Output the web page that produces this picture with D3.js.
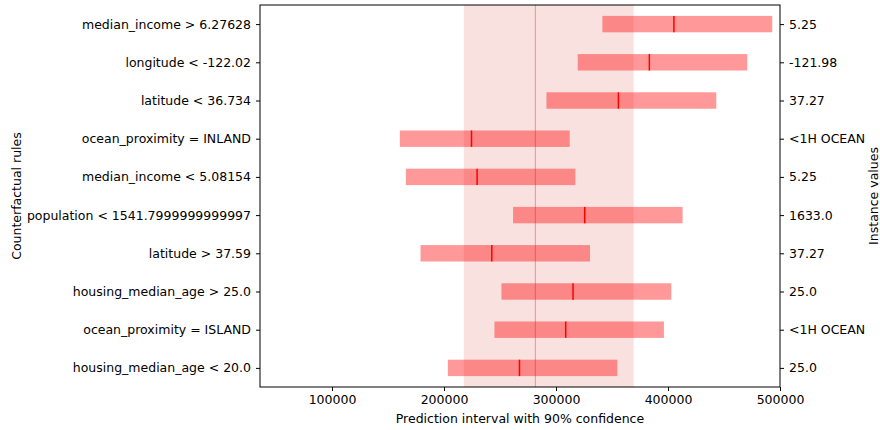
<!DOCTYPE html>
<html><head><meta charset="utf-8">
<script src="https://cdn.jsdelivr.net/npm/d3@7"></script>
<style>body{margin:0;background:#fff}svg{display:block}text{font-family:"DejaVu Sans",sans-serif}</style>
</head><body><svg id="c" width="880" height="430"></svg>
<script>
const rules = ["median_income > 6.27628","longitude < -122.02","latitude < 36.734","ocean_proximity = INLAND","median_income < 5.08154","population < 1541.7999999999997","latitude > 37.59","housing_median_age > 25.0","ocean_proximity = ISLAND","housing_median_age < 20.0"];
const instanceValues = ["5.25","-121.98","37.27","<1H OCEAN","5.25","1633.0","37.27","25.0","<1H OCEAN","25.0"];
const lows = [341400,319400,291450,160590,165940,261660,179030,251280,245040,203410];
const medians = [405300,383340,355700,224550,229560,325620,242660,315200,308670,267370];
const highs = [493060,470760,443100,312240,317320,413040,330380,402960,396370,354790];
const basePrediction = 281600;
const baseInterval = [217700, 369300];
const xTicks = [100000,200000,300000,400000,500000];

const svg = d3.select("#c");
const L=260,R=780,T=5,B=387;
const x = d3.scaleLinear().domain([35700,500000]).range([L,R]);
const y = d3.scaleLinear().domain([-0.5,9.5]).range([T,B]);
const bh = (y(1)-y(0))*0.43;

svg.append("rect").attr("x",x(baseInterval[0])).attr("y",T).attr("width",x(baseInterval[1])-x(baseInterval[0])).attr("height",B-T).attr("fill","#f9e1e0");
svg.append("line").attr("x1",x(basePrediction)).attr("x2",x(basePrediction)).attr("y1",T).attr("y2",B).attr("stroke","#f29c9b").attr("stroke-width",1.2);

const g = svg.append("g");
rules.forEach((r,i)=>{
  g.append("rect").attr("x",x(lows[i])).attr("y",y(i)-bh/2).attr("width",x(highs[i])-x(lows[i])).attr("height",bh).attr("fill","red").attr("fill-opacity",0.4);
  g.append("line").attr("x1",x(medians[i])).attr("x2",x(medians[i])).attr("y1",y(i)-bh/2).attr("y2",y(i)+bh/2).attr("stroke","red").attr("stroke-width",1.5);
});

const fs = "12.5px";
const xa = svg.append("g").attr("transform",`translate(0,${B})`).call(d3.axisBottom(x).tickValues(xTicks).tickFormat(d3.format("d")).tickSizeOuter(0).tickSize(4).tickPadding(4));
const ya = svg.append("g").attr("transform",`translate(${L},0)`).call(d3.axisLeft(y).tickValues(d3.range(10)).tickFormat(i=>rules[i]).tickSizeOuter(0).tickSize(4).tickPadding(5));
const yr = svg.append("g").attr("transform",`translate(${R},0)`).call(d3.axisRight(y).tickValues(d3.range(10)).tickFormat(i=>instanceValues[i]).tickSizeOuter(0).tickSize(4).tickPadding(5));
[xa,ya,yr].forEach(a=>{a.selectAll("text").attr("font-size",fs).attr("fill","#000");a.select(".domain").remove();a.selectAll("line").attr("stroke","#000");});
svg.append("rect").attr("x",L).attr("y",T).attr("width",R-L).attr("height",B-T).attr("fill","none").attr("stroke","#000").attr("stroke-width",1);

svg.append("text").attr("x",(L+R)/2).attr("y",423).attr("text-anchor","middle").attr("font-size",fs).text("Prediction interval with 90% confidence");
svg.append("text").attr("transform",`translate(21,${(T+B)/2}) rotate(-90)`).attr("text-anchor","middle").attr("font-size",fs).text("Counterfactual rules");
svg.append("text").attr("transform",`translate(878,${(T+B)/2}) rotate(-90)`).attr("text-anchor","middle").attr("font-size",fs).text("Instance values");
</script></body></html>
